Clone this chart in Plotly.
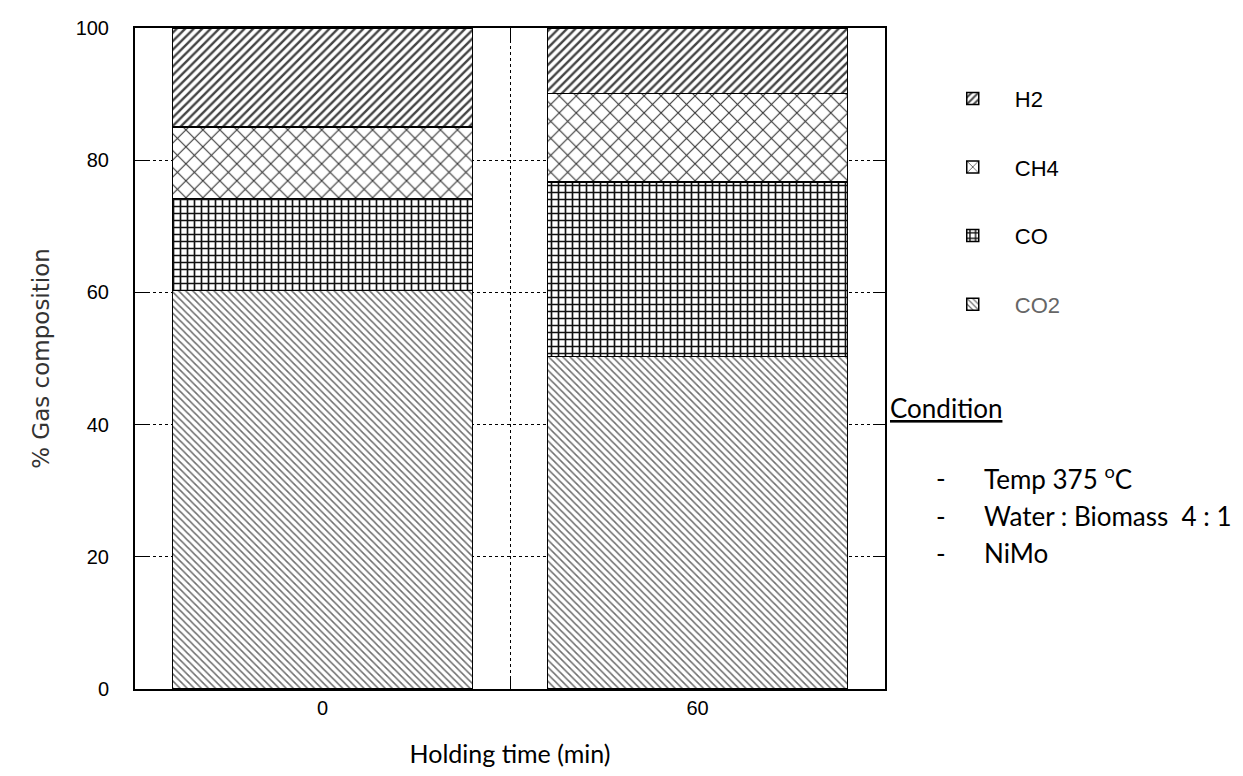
import plotly.graph_objects as go

categories = ["0", "60"]
co2 = [60.3, 50.3]
co = [13.9, 26.4]
ch4 = [10.8, 13.4]
h2 = [15.0, 9.9]
tick_vals_y = [0, 20, 40, 60, 80, 100]

series = [
    ("CO2", co2, "\\", 5, 0.3, "#6e6e6e", "<span style='color:#666'>CO2</span>", 4),
    ("CO", co, "+", 7, 0.42, "#111111", "CO", 3),
    ("CH4", ch4, "x", 12, 0.17, "#333333", "CH4", 2),
    ("H2", h2, "/", 6, 0.4, "#444444", "H2", 1),
]

fig = go.Figure()
for key, vals, shape, size, sol, fg, label, rank in series:
    fig.add_trace(go.Bar(
        x=categories, y=vals, name=label, legendgroup=key, legendrank=rank,
        marker=dict(color="white",
                    line=dict(color="black", width=1.5),
                    pattern=dict(shape=shape, size=size, solidity=sol,
                                 fgcolor=fg, bgcolor="white", fillmode="replace")),
        width=0.8,
    ))

fig.update_layout(
    width=1243, height=776,
    barmode="stack",
    plot_bgcolor="white", paper_bgcolor="white",
    margin=dict(l=135, r=358, t=28, b=85),
    font=dict(family="Liberation Sans, Arial", size=20, color="black"),
    showlegend=True,
    legend=dict(x=1.061, y=0.925, xanchor="left", yanchor="top",
                traceorder="grouped", tracegroupgap=37,
                font=dict(size=22, family="Liberation Sans, Arial"),
                itemwidth=74, bgcolor="rgba(0,0,0,0)"),
)

fig.update_xaxes(
    type="category", range=[-0.5, 1.5],
    showline=True, linecolor="black", linewidth=2, mirror="ticks",
    tickson="boundaries", ticks="inside", ticklen=12, tickcolor="black", tickwidth=1,
    showgrid=True, gridcolor="black", griddash="dot", gridwidth=1,
    tickfont=dict(size=20, family="Liberation Sans, Arial"),
    title=dict(text="Holding time (min)", font=dict(family="Lato", size=25), standoff=27),
)
fig.update_yaxes(
    range=[0, 100], tickvals=tick_vals_y,
    showline=True, linecolor="black", linewidth=2, mirror="ticks",
    ticks="inside", ticklen=12, tickcolor="black", tickwidth=1,
    showgrid=True, gridcolor="black", griddash="dot", gridwidth=1,
    zeroline=False,
    ticklabelstandoff=20,
    tickfont=dict(size=20, family="Liberation Sans, Arial"),
    title=dict(text="% Gas composition", font=dict(family="DejaVu Sans", size=23, color="#333"), standoff=20),
)

cond_font = dict(family="Lato", size=26, color="black")
fig.add_annotation(x=(888 - 135) / 750, y=(691 - 409) / 663, xref="paper", yref="paper",
                   xanchor="left", yanchor="middle",
                   text="<u>Condition</u>", showarrow=False, font=cond_font)
lines = ["Temp 375 <sup>o</sup>C", "Water : Biomass  4 : 1", "NiMo"]
ys_px = [479, 517, 555]
for t, ypx in zip(lines, ys_px):
    yy = (691 - ypx) / 663
    fig.add_annotation(x=(934 - 135) / 750, y=yy, xref="paper", yref="paper", xanchor="left", yanchor="middle",
                       text="-", showarrow=False, font=cond_font)
    fig.add_annotation(x=(982 - 135) / 750, y=yy, xref="paper", yref="paper", xanchor="left", yanchor="middle",
                       text=t, showarrow=False, font=cond_font)

fig.write_html("out.html")
